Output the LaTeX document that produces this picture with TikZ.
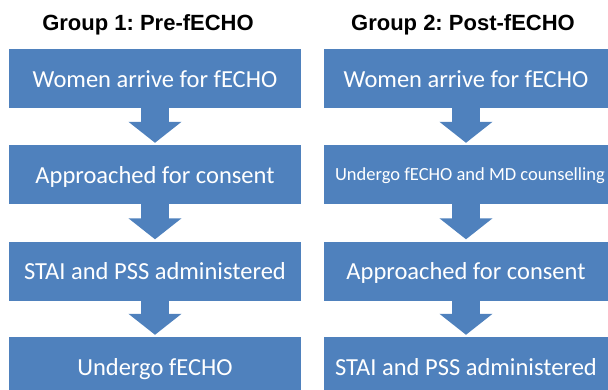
\documentclass[tikz,border=0pt]{standalone}
\usepackage{fontspec}
\setmainfont{Carlito}
\newfontfamily\titlefont{Liberation Sans}
\usetikzlibrary{arrows.meta}
\definecolor{boxblue}{HTML}{4F81BD}
\frenchspacing
\begin{document}
\begin{tikzpicture}[x=1pt,y=-1pt,
  stepbox/.style={fill=boxblue, text=white, minimum height=59pt, inner sep=0pt,
    font=\fontsize{24.5}{28}\selectfont, text height=20pt, text depth=3pt},
  smalltext/.style={font=\fontsize{18.5}{22}\selectfont, text height=14pt, text depth=3pt, xshift=4pt},
  leftbox/.style={stepbox, minimum width=292pt},
  rightbox/.style={stepbox, minimum width=284pt},
  grouptitle/.style={font=\titlefont\bfseries\fontsize{22}{26}\selectfont, anchor=base, inner sep=0pt},
  flow/.style={draw=boxblue, line width=28pt, -{Triangle[width=52pt,length=21pt]}, shorten >=2pt}]
\useasboundingbox (0,0) rectangle (608,389);
\clip (0,0) rectangle (608,389);

\node[grouptitle] (t1) at (148,30) {Group 1: Pre-fECHO};
\node[grouptitle] (t2) at (463,30) {Group 2: Post-fECHO};

\node[leftbox] (l1) at (155,78.5) {Women arrive for fECHO};
\node[leftbox] (l2) at (155,174.5) {Approached for consent};
\node[leftbox] (l3) at (155,271) {STAI and PSS administered};
\node[leftbox] (l4) at (155,366.5) {Undergo fECHO};

\node[rightbox] (r1) at (466,78.5) {Women arrive for fECHO};
\node[rightbox] (r2) at (466,174.5) {};
\node[smalltext, text=white, inner sep=0pt] (r2t) at (r2.center) {Undergo fECHO and MD counselling};
\node[rightbox] (r3) at (466,271) {Approached for consent};
\node[rightbox] (r4) at (466,366.5) {STAI and PSS administered};

\draw[flow] (l1.south) -- (l2.north);
\draw[flow] (l2.south) -- (l3.north);
\draw[flow] (l3.south) -- (l4.north);
\draw[flow] (r1.south) -- (r2.north);
\draw[flow] (r2.south) -- (r3.north);
\draw[flow] (r3.south) -- (r4.north);
\end{tikzpicture}
\end{document}
